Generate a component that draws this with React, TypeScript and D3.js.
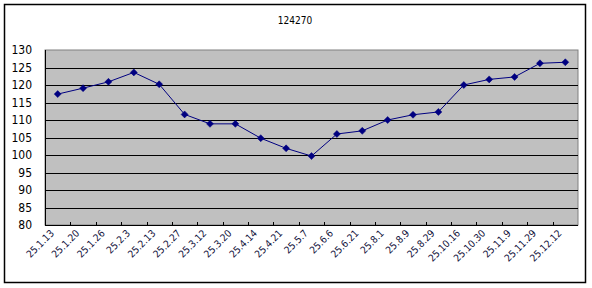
import React from "react";
import * as d3 from "d3";

const title = "124270";
const categories = [
  "25.1.13", "25.1.20", "25.1.26", "25.2.3", "25.2.13", "25.2.27", "25.3.12",
  "25.3.20", "25.4.14", "25.4.21", "25.5.7", "25.6.6", "25.6.21", "25.8.1",
  "25.8.9", "25.8.29", "25.10.16", "25.10.30", "25.11.9", "25.11.29", "25.12.12",
];
const values = [
  117.4, 119.1, 120.9, 123.6, 120.2, 111.6, 108.9, 108.9, 104.8, 101.9, 99.7,
  106.0, 106.9, 110.0, 111.5, 112.3, 120.0, 121.6, 122.3, 126.2, 126.5,
];
const yTicks = [80, 85, 90, 95, 100, 105, 110, 115, 120, 125, 130];

const W = 592;
const H = 288;
const plot = { left: 45, right: 578, top: 50, bottom: 225 };

export default function App() {
  const x = d3
    .scaleBand<string>()
    .domain(categories)
    .range([plot.left, plot.right])
    .paddingInner(0)
    .paddingOuter(0);
  const y = d3.scaleLinear().domain([80, 130]).range([plot.bottom, plot.top]);
  const cx = (c: string) => (x(c) as number) + x.bandwidth() / 2;
  const line = d3
    .line<number>()
    .x((_, i) => cx(categories[i]))
    .y((v) => y(v));
  const diamond = "M0,-3.5L3.5,0L0,3.5L-3.5,0Z";
  const font = "'DejaVu Sans Condensed', 'Liberation Sans Narrow', 'Liberation Sans', sans-serif";

  return (
    <svg
      width={W}
      height={H}
      style={{ position: "absolute", left: 0, top: 0, background: "#fff" }}
    >
      <rect x={4.5} y={4.5} width={581} height={278} fill="#fff" stroke="#000" strokeWidth={1.5} />
      <text x={295} y={24} textAnchor="middle" fontFamily={font} fontSize={10} fill="#000">
        {title}
      </text>
      <rect
        x={plot.left}
        y={plot.top}
        width={plot.right - plot.left}
        height={plot.bottom - plot.top}
        fill="#C0C0C0"
        stroke="#808080"
        strokeWidth={1}
      />
      {yTicks.map((t) => (
        <g key={t}>
          {t !== 80 && t !== 130 && (
            <line x1={plot.left} x2={plot.right} y1={Math.round(y(t)) + 0.5} y2={Math.round(y(t)) + 0.5} stroke="#000" strokeWidth={1} />
          )}
          <text
            x={32}
            y={y(t) + 4}
            textAnchor="end"
            fontFamily={font}
            fontSize={12}
            fill="#000"
          >
            {t}
          </text>
        </g>
      ))}
      <line x1={plot.left + 0.5} x2={plot.left + 0.5} y1={plot.top} y2={plot.bottom} stroke="#000" strokeWidth={1} />
      <line x1={plot.left} x2={plot.right} y1={plot.bottom + 0.5} y2={plot.bottom + 0.5} stroke="#000" strokeWidth={1} />
      {categories.map((c, i) => {
        const bx = Math.round(x(c) as number) + 0.5;
        return i > 0 ? (
          <line key={"t" + c} x1={bx} x2={bx} y1={plot.bottom} y2={plot.bottom - 3} stroke="#000" strokeWidth={1} />
        ) : null;
      })}
      <path d={line(values) as string} fill="none" stroke="#000080" strokeWidth={1} />
      {values.map((v, i) => (
        <path key={i} d={diamond} transform={`translate(${cx(categories[i])},${y(v)})`} fill="#000080" stroke="#000080" strokeWidth={0.5} />
      ))}
      {categories.map((c) => (
        <text
          key={"l" + c}
          transform={`translate(${cx(c) - 3},${plot.bottom + 9}) rotate(-45)`}
          textAnchor="end"
          fontFamily={font}
          fontSize={10}
          fill="#10103a"
        >
          {c}
        </text>
      ))}
    </svg>
  );
}
